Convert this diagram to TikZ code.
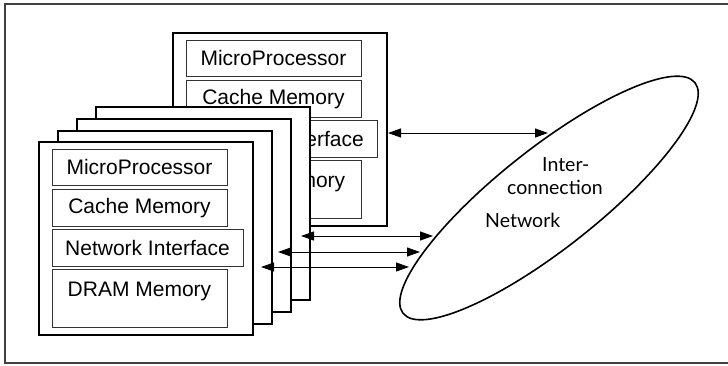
\documentclass[tikz,border=0pt]{standalone}
\usepackage{fontspec}
\setmainfont{Liberation Sans}
\newfontfamily\gill{Lato}
\usetikzlibrary{shapes.geometric,arrows.meta}
\tikzset{
  board/.style={draw=black,line width=2pt,fill=white,minimum width=214pt,minimum height=193pt,inner sep=0pt,anchor=north west},
  part/.style={draw=black!80,line width=0.9pt,fill=white,inner sep=0pt,anchor=north west,font=\fontsize{21}{22}\selectfont},
  link/.style={line width=1pt,{Triangle[length=13pt,width=9pt]}-{Triangle[length=13pt,width=9pt]}},
  nettext/.style={font=\gill\fontsize{19.5}{20}\selectfont,inner sep=0pt,anchor=base west},
}
\newcommand{\fullboard}[3]{%
  \node[board] (#1) at (#2,#3) {};
  \node[part,minimum width=175pt,minimum height=36pt] (#1mp) at ([shift={(13.5,8)}]#1.north west) {MicroProcessor};
  \node[part,minimum width=175pt,minimum height=37pt] (#1cm) at ([shift={(13.5,48)}]#1.north west) {Cache Memory};
  \node[part,minimum width=191pt,minimum height=37pt] (#1ni) at ([shift={(13.5,88)}]#1.north west) {Network Interface};
  \node[part,minimum width=175pt,minimum height=58pt,text height=27pt,text depth=31pt] (#1dm) at ([shift={(13.5,128)}]#1.north west) {DRAM Memory};
}
\begin{document}
\begin{tikzpicture}[x=1pt,y=-1pt]
\useasboundingbox (0,0) rectangle (728,365);
\draw[black!75,line width=1.3pt] (729,4) -- (5,4) -- (5,363) -- (729,363);
% back board
\fullboard{bA}{172}{32}
% middle boards
\node[board] (bB) at (95,106) {};
\node[board] (bC) at (76,118) {};
\node[board] (bD) at (57,130) {};
% front board
\fullboard{bE}{38}{141}
% network
\node[draw,line width=1.6pt,ellipse,minimum width=372pt,minimum height=100pt,inner sep=0pt,rotate=38.3] (net) at (549,198) {};
\node[nettext] (t1) at (542,171) {Inter-};
\node[nettext] (t2) at (507,194) {connection};
\node[nettext] (t3) at (485,227) {Network};
% connector ends
\coordinate (eA) at (388,133);
\coordinate (nA) at (548,133);
\coordinate (eB) at (301,236);
\coordinate (nB) at (433,236);
\coordinate (eC) at (278,252);
\coordinate (nC) at (420,252);
\coordinate (eD) at (261,267);
\coordinate (nD) at (409,267);
\draw[link] (eA) -- (nA);
\draw[link] (eB) -- (nB);
\draw[link] (eC) -- (nC);
\draw[link] (eD) -- (nD);
\end{tikzpicture}
\end{document}
